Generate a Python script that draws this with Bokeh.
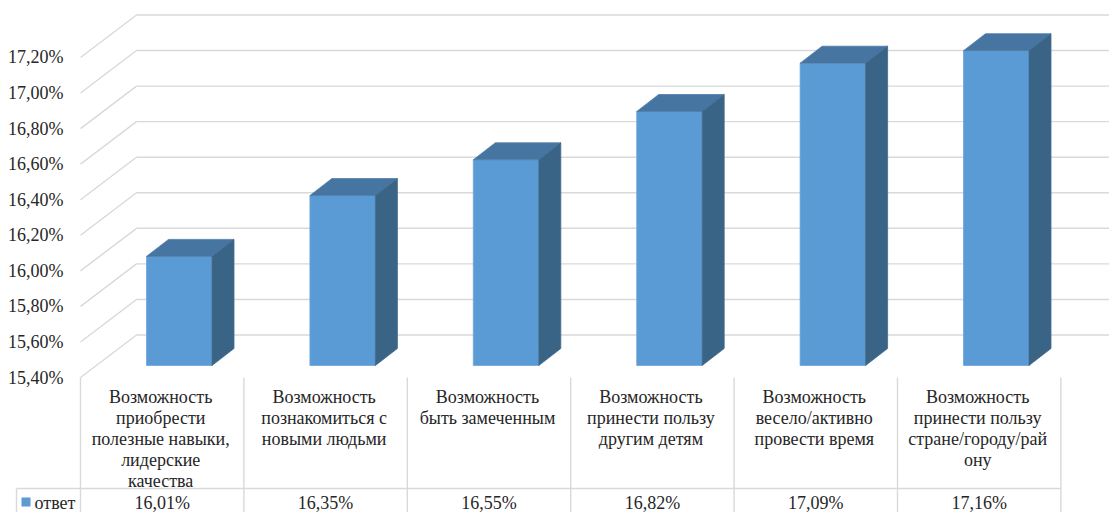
from bokeh.plotting import figure
from bokeh.embed import file_html
from bokeh.resources import INLINE
from bokeh.models import Range1d, LinearAxis, FixedTicker
from bokeh.core.properties import value

categories = [
    "Возможность\nприобрести\nполезные навыки,\nлидерские\nкачества",
    "Возможность\nпознакомиться с\nновыми людьми",
    "Возможность\nбыть замеченным",
    "Возможность\nпринести пользу\nдругим детям",
    "Возможность\nвесело/активно\nпровести время",
    "Возможность\nпринести пользу\nстране/городу/рай\nону",
]
answers = [16.01, 16.35, 16.55, 16.82, 17.09, 17.16]
y_ticks = [15.4, 15.6, 15.8, 16.0, 16.2, 16.4, 16.6, 16.8, 17.0, 17.2]
series_name = "ответ"

def fmt(v):
    return f"{v:.2f}".replace(".", ",") + "%"

# pixel <-> data scale of the chart
PX_X, PX_Y = 163.4, 177.8
X0, Y0 = 80, 377          # page pixel of category 0 / value 15.40
BASE = y_ticks[0]
dx = lambda px: px / PX_X
dy = lambda px: px / PX_Y
X = lambda px: (px - X0) / PX_X
Y = lambda px: BASE + (Y0 - px) / PX_Y

W, H = 1109, 512
p = figure(width=W, height=H, output_backend="svg", toolbar_location=None,
           x_range=Range1d(X(0), X(W)), y_range=Range1d(Y(H), Y(0)),
           min_border=0, min_border_left=0, min_border_right=0,
           min_border_top=0, min_border_bottom=0,
           x_axis_type=None, y_axis_type=None, outline_line_color=None)
p.grid.visible = False
p.background_fill_color = "white"

FONT = "Liberation Serif"
TXT = "#262626"
GRID = "#D9D9D9"
FS = "18px"

# walls
depth_x, depth_y = dx(56), dy(42.5)
far = X(1125)
for v in y_ticks:
    p.line([0, depth_x, far], [v, v + depth_y, v + depth_y], line_color=GRID, line_width=1.4)

# bars
n = len(answers)
bar_w = dx(65.5)
off_x, off_y = dx(66), dy(12)      # front face start inside its cell
sx, sy = dx(22), dy(17)
lefts = [i + off_x for i in range(n)]
rights = [l + bar_w for l in lefts]
bottoms = [BASE + off_y] * n
tops = [BASE + off_y + (a - BASE) * 1.006 for a in answers]

p.quad(left=lefts, right=rights, bottom=bottoms, top=tops,
       fill_color="#5B9BD5", line_color="#6FA6DA", line_width=0.8)
p.patches(xs=[[l, r, r + sx, l + sx] for l, r in zip(lefts, rights)],
          ys=[[t, t, t + sy, t + sy] for t in tops],
          fill_color="#4675A2", line_color="#4F7EA9", line_width=0.8)
p.patches(xs=[[r, r + sx, r + sx, r] for r in rights],
          ys=[[b, b + sy, t + sy, t] for b, t in zip(bottoms, tops)],
          fill_color="#3A6486", line_color="#42698C", line_width=0.8)

# data-table lines
row_y, bottom_y = Y(488), Y(513)
for i in range(n + 1):
    p.line([i, i], [BASE, bottom_y], line_color=GRID, line_width=1.4)
p.line([X(16), n], [row_y, row_y], line_color=GRID, line_width=1.4)
p.line([X(16), X(16)], [row_y, bottom_y], line_color=GRID, line_width=1.4)

# legend key and name
p.quad(left=[X(21)], right=[X(30)], bottom=[Y(506)], top=[Y(497)], fill_color="#5B9BD5", line_color=None)
p.text(x=[X(34)], y=[Y(502)], text=[series_name], text_font=value(FONT), text_font_size=FS,
       text_color=TXT, text_align="left", text_baseline="middle")

# values row
p.text(x=[i + 0.5 for i in range(n)], y=[Y(502)] * n, text=[fmt(a) for a in answers],
       text_font=value(FONT), text_font_size=FS, text_color=TXT,
       text_align="center", text_baseline="middle")

# category labels
p.text(x=[i + 0.5 - dx(1.5) for i in range(n)], y=[Y(386)] * n, text=categories,
       text_font=value(FONT), text_font_size=FS, text_color=TXT,
       text_align="center", text_baseline="top", text_line_height=1.06)

# y axis, on the front edge of the wall
ya = LinearAxis(ticker=FixedTicker(ticks=y_ticks), fixed_location=0,
                major_label_overrides={t: fmt(t) for t in y_ticks})
ya.axis_line_color = None
ya.major_tick_line_color = None
ya.minor_tick_line_color = None
ya.major_label_standoff = 11
ya.major_label_text_font = FONT
ya.major_label_text_font_size = FS
ya.major_label_text_color = TXT
p.add_layout(ya, "left")

open("out.html", "w").write(file_html(p, INLINE))
